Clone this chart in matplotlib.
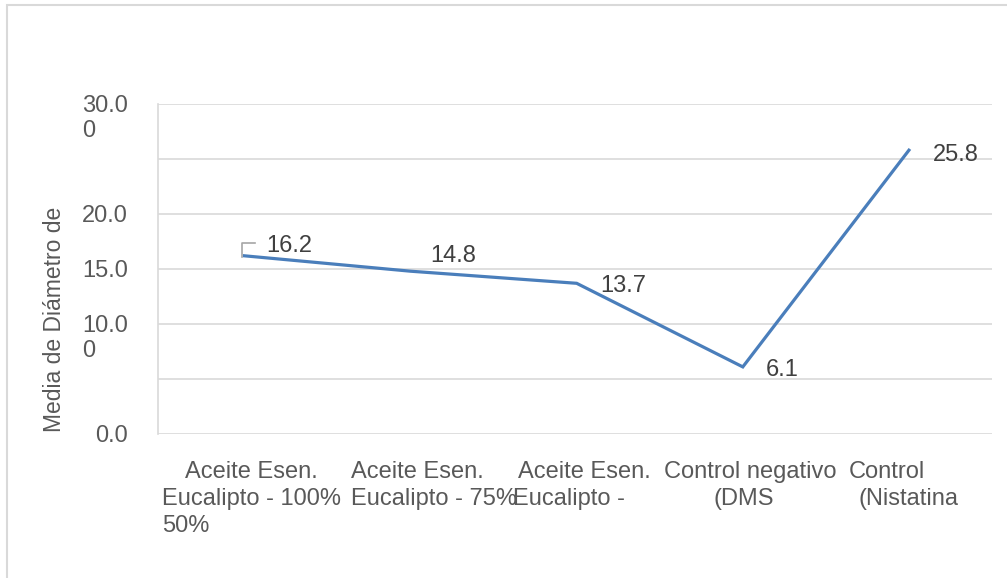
import matplotlib.pyplot as plt
import matplotlib.patches as mpatches
import matplotlib.transforms as mtransforms

# data
categories = [
    "Aceite Esen. Eucalipto - 100%",
    "Aceite Esen. Eucalipto - 75%",
    "Aceite Esen. Eucalipto - 50%",
    "Control negativo (DMS",
    "Control (Nistatina",
]
values = [16.2, 14.8, 13.7, 6.1, 25.8]
value_labels = ["16.2", "14.8", "13.7", "6.1", "25.8"]
y_ticks = [0, 5, 10, 15, 20, 25, 30]
y_tick_labels = ["0.0", "", "10.0\n0", "15.0", "20.0", "", "30.0\n0"]
y_title = "Media de Diámetro de"

# how the category text got broken into lines in the original
cat_lines = [
    [("Aceite Esen.", -59), ("Eucalipto - 100%", -82), ("50%", -82)],
    [("Aceite Esen.", -60), ("Eucalipto - 75%", -60)],
    [("Aceite Esen.", -59), ("Eucalipto -", -64)],
    [("Control negativo", -79), ("(DMS", -29)],
    [("Control", -60), ("(Nistatina", -50)],
]
# label offsets (pixels) from each point
label_offsets = [(22, 4), (20, 9), (24, -9), (23, -9), (24, -11)]

plt.rcParams["font.family"] = ["Liberation Sans", "DejaVu Sans"]
FS = 17
TXT = "#595959"
GRID = "#d9d9d9"
LINE = "#4a7ebb"

W, H = 1007, 578
fig = plt.figure(figsize=(W / 100, H / 100), dpi=100)
ax = fig.add_axes([158 / W, (H - 434) / H, (992 - 158) / W, (434 - 104) / H])

x = list(range(len(categories)))
ax.plot(x, values, color=LINE, linewidth=2.3, solid_joinstyle="miter", zorder=3)

ax.set_xlim(-0.52, 4.5)
ax.set_ylim(0, 30)
ax.set_yticks(y_ticks)
ax.set_yticklabels([])
ax.set_xticks([])
ax.tick_params(left=False, bottom=False)
ax.grid(axis="y", color=GRID, linewidth=1.2)
ax.set_axisbelow(True)
for side in ["top", "right", "bottom"]:
    ax.spines[side].set_visible(False)
ax.spines["left"].set_color(GRID)
ax.spines["left"].set_linewidth(1.2)

# y tick labels, first line centred on the tick, wrapped digit below
for v, lab in zip(y_ticks, y_tick_labels):
    if not lab:
        continue
    parts = lab.split("\n")
    first = ax.annotate(parts[0], xy=(0, v), xycoords=("axes fraction", "data"),
                        xytext=(-30, -8), textcoords="offset pixels",
                        ha="right", va="baseline", fontsize=FS, color=TXT)
    if len(parts) > 1:
        ax.annotate(parts[1], xy=(0, 0), xycoords=first,
                    xytext=(0, -25), textcoords="offset pixels",
                    ha="left", va="bottom", fontsize=FS, color=TXT)

# category labels
for i, lines in enumerate(cat_lines):
    for j, (txt, dx) in enumerate(lines):
        ax.annotate(txt, xy=(i, 0), xycoords="data",
                    xytext=(dx, -44 - 27 * j), textcoords="offset pixels",
                    ha="left", va="baseline", fontsize=FS, color=TXT,
                    annotation_clip=False)

# data labels
for i, (v, lab) in enumerate(zip(values, value_labels)):
    dx, dy = label_offsets[i]
    ax.annotate(lab, xy=(i, v), xytext=(dx, dy), textcoords="offset pixels",
                ha="left", va="baseline", fontsize=FS, color="#404040")

# small leader line on the first label
lead = [(-2, -1), (-2, 13), (11, 13)]
trs = [mtransforms.offset_copy(ax.transData, fig=fig, x=px, y=py, units="dots")
       for px, py in lead]
pts = [fig.transFigure.inverted().transform(t.transform((0, values[0]))) for t in trs]
fig.add_artist(plt.Line2D([p[0] for p in pts], [p[1] for p in pts],
                          transform=fig.transFigure, color="#a6a6a6", linewidth=1.2))

fig.text(55 / W, 1 - 319 / H, y_title, rotation=90, ha="center", va="center",
         fontsize=16.5, color=TXT)

# chart border
fig.add_artist(mpatches.Rectangle((7 / W, -0.05), 1.2, 1 - 5 / H + 0.05,
                                  transform=fig.transFigure, fill=False,
                                  edgecolor=GRID, linewidth=1.5))

fig.savefig("out.png", dpi=100)
